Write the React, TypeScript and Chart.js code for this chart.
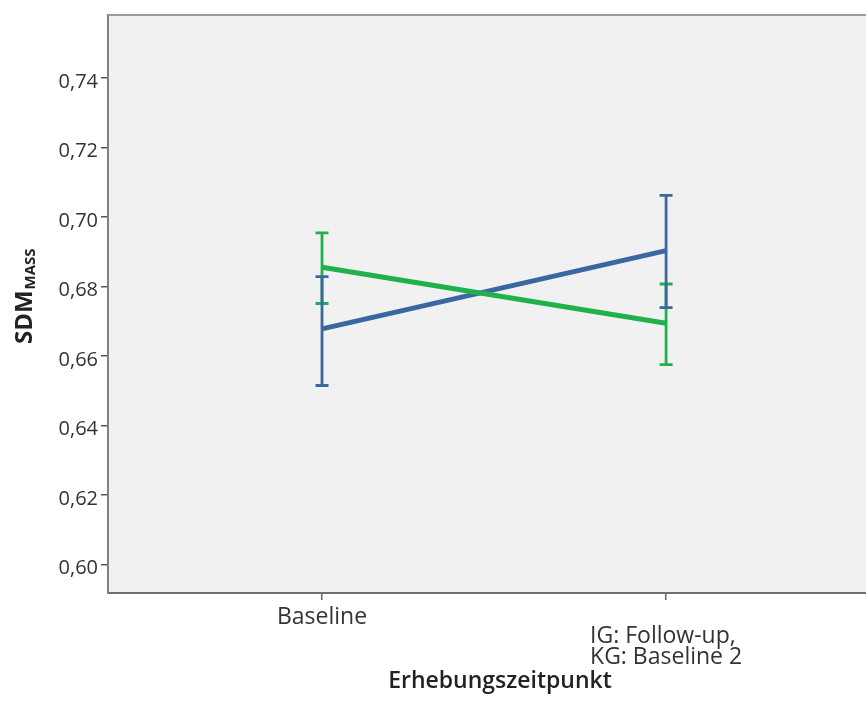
import React, { useEffect, useRef } from "react";
import { Chart, registerables } from "chart.js";

Chart.register(...registerables);

// ---- data ----
const xPositions = [1, 2];
const xTickLabels: string[][] = [["Baseline"], ["IG: Follow-up,", "KG: Baseline 2"]];
const igMean = [0.6678, 0.6903];
const igLower = [0.6515, 0.6739];
const igUpper = [0.6828, 0.7062];
const kgMean = [0.6855, 0.6694];
const kgLower = [0.6751, 0.6575];
const kgUpper = [0.6954, 0.6807];
const yTicks = [0.6, 0.62, 0.64, 0.66, 0.68, 0.7, 0.72, 0.74];

const BLUE = "#3b67a0";
const GREEN = "#1fb24c";
const FONT = '"Open Sans", "DejaVu Sans", sans-serif';

const decorPlugin = {
  id: "decor",
  beforeDraw(chart: any) {
    const { ctx, chartArea: a, width, height } = chart;
    ctx.save();
    ctx.fillStyle = "#ffffff";
    ctx.fillRect(0, 0, width, height);
    ctx.fillStyle = "#f1f1f1";
    ctx.fillRect(a.left, a.top, a.right - a.left, a.bottom - a.top);
    ctx.restore();
  },
  afterDraw(chart: any) {
    const { ctx, chartArea: a, scales } = chart;
    ctx.save();
    // top frame line
    ctx.strokeStyle = "#9a9a9a";
    ctx.lineWidth = 2;
    ctx.beginPath();
    ctx.moveTo(a.left, a.top);
    ctx.lineTo(a.right, a.top);
    ctx.stroke();

    // x tick labels
    const xs = scales.x;
    ctx.fillStyle = "#333333";
    ctx.font = `23px ${FONT}`;
    ctx.textBaseline = "middle";
    xTickLabels.forEach((lines, i) => {
      const px = xs.getPixelForValue(xPositions[i]);
      const maxW = Math.max(...lines.map((l) => ctx.measureText(l).width));
      const startY = lines.length === 1 ? a.bottom + 24 : a.bottom + 43;
      lines.forEach((l, j) => {
        ctx.textAlign = "left";
        ctx.fillText(l, px - maxW / 2, startY + j * 21.5);
      });
    });

    // x title
    ctx.fillStyle = "#222222";
    ctx.font = `600 23px ${FONT}`;
    ctx.textAlign = "center";
    ctx.fillText("Erhebungszeitpunkt", 500, a.bottom + 88);

    // y title with subscript
    const cy = (a.top + a.bottom) / 2;
    ctx.translate(32, cy + 40);
    ctx.rotate(-Math.PI / 2);
    ctx.textAlign = "left";
    ctx.textBaseline = "alphabetic";
    ctx.font = `bold 24px ${FONT}`;
    ctx.fillText("SDM", 0, 0);
    const w = ctx.measureText("SDM").width;
    ctx.font = `bold 15px ${FONT}`;
    ctx.fillText("MASS", w + 1, 3);
    ctx.restore();
  },
  afterDatasetsDraw(chart: any) {
    const { ctx, scales } = chart;
    const xs = scales.x;
    const ys = scales.y;
    const bars = [
      { lo: kgLower, hi: kgUpper, color: GREEN },
      { lo: igLower, hi: igUpper, color: BLUE },
    ];
    ctx.save();
    ctx.lineWidth = 2.8;
    ctx.lineCap = "butt";
    bars.forEach((b) => {
      ctx.strokeStyle = b.color;
      xPositions.forEach((xv, i) => {
        const px = xs.getPixelForValue(xv);
        const yl = ys.getPixelForValue(b.lo[i]);
        const yh = ys.getPixelForValue(b.hi[i]);
        ctx.beginPath();
        ctx.moveTo(px, yl);
        ctx.lineTo(px, yh);
        ctx.moveTo(px - 6.5, yl);
        ctx.lineTo(px + 6.5, yl);
        ctx.moveTo(px - 6.5, yh);
        ctx.lineTo(px + 6.5, yh);
        ctx.stroke();
      });
    });
    ctx.restore();
  },
};

export default function App() {
  const ref = useRef<HTMLCanvasElement | null>(null);
  useEffect(() => {
    if (!ref.current) return;
    const chart = new Chart(ref.current, {
      type: "line",
      data: {
        datasets: [
          {
            label: "KG",
            data: xPositions.map((x, i) => ({ x, y: kgMean[i] })),
            borderColor: GREEN,
            borderWidth: 5,
            pointRadius: 0,
            fill: false,
          },
          {
            label: "IG",
            data: xPositions.map((x, i) => ({ x, y: igMean[i] })),
            borderColor: BLUE,
            borderWidth: 5,
            pointRadius: 0,
            fill: false,
          },
        ],
      },
      options: {
        responsive: false,
        animation: false,
        devicePixelRatio: 1,
        layout: { padding: { top: 14, left: 0, right: 0, bottom: 0 } },
        plugins: { legend: { display: false }, tooltip: { enabled: false } },
        scales: {
          x: {
            type: "linear",
            min: 0.378,
            max: 2.581,
            afterBuildTicks: (s: any) => {
              s.ticks = xPositions.map((v) => ({ value: v }));
            },
            afterFit: (s: any) => {
              s.height = 109;
            },
            ticks: { display: false },
            grid: { display: true, drawOnChartArea: false, drawTicks: true, tickLength: 7, color: "#666666", lineWidth: 1.5 },
            border: { display: true, color: "#707070", width: 2 },
          },
          y: {
            type: "linear",
            min: 0.5918,
            max: 0.7581,
            afterBuildTicks: (s: any) => {
              s.ticks = yTicks.map((v) => ({ value: v }));
            },
            afterFit: (s: any) => {
              s.width = 108;
            },
            ticks: {
              callback: (v: any) => Number(v).toFixed(2).replace(".", ","),
              font: { family: FONT, size: 20 },
              color: "#333333",
              padding: 3,
              labelOffset: 4,
            },
            grid: { display: true, drawOnChartArea: false, drawTicks: true, tickLength: 7, color: "#555555", lineWidth: 1.5 },
            border: { display: true, color: "#808080", width: 2 },
          },
        },
      },
      plugins: [decorPlugin],
    } as any);
    return () => chart.destroy();
  }, []);
  return (
    <div style={{ position: "fixed", left: 0, top: 0, width: 866, height: 702, background: "#fff" }}>
      <canvas ref={ref} width={866} height={702} style={{ display: "block", width: 866, height: 702 }} />
    </div>
  );
}
